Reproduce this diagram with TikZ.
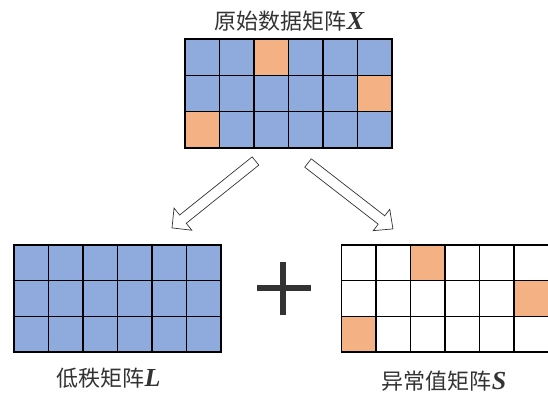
\documentclass[tikz,border=0pt]{standalone}
\usepackage{fontspec}
\setmainfont{Liberation Serif}
\newfontfamily\cjk{Noto Sans CJK SC}
\usetikzlibrary{calc}
\definecolor{cellblue}{HTML}{8FAADC}
\definecolor{cellorange}{HTML}{F4B183}
\definecolor{inkgray}{HTML}{333333}
\newcommand\matsym[1]{{\fontsize{26}{28}\selectfont\rmfamily\bfseries\itshape #1}}
\begin{document}
\begin{tikzpicture}[x=1pt,y=1pt,
  matbox/.style={minimum width=207pt, inner sep=0pt, outer sep=0pt, anchor=north west},
  cellline/.style={draw=black, line width=1.3pt},
  caption/.style={font=\fontsize{22}{24}\selectfont\cjk, text=inkgray, inner sep=0pt},
  blockarrow/.style={draw=inkgray, line width=0.7pt, fill=white, line join=miter},
  plusbar/.style={fill=inkgray}]
\useasboundingbox (0,0) rectangle (548,-394);

% data matrix X
\node[matbox, minimum height=109pt] (X) at (185,-39) {};
\foreach \c in {0,...,5}\foreach \r in {0,1,2}
  \draw[cellline, fill=cellblue] ($(X.north west)+(\c*34.5,-\r*36.33)$) rectangle +(34.5,-36.33);
\foreach \c/\r in {2/0,5/1,0/2}
  \draw[cellline, fill=cellorange] ($(X.north west)+(\c*34.5,-\r*36.33)$) rectangle +(34.5,-36.33);
\node[caption] (tX) at (289.5,-21) {原始数据矩阵\matsym{X}};

% low-rank matrix L
\node[matbox, minimum height=107pt] (L) at (14,-245) {};
\foreach \c in {0,...,5}\foreach \r in {0,1,2}
  \draw[cellline, fill=cellblue] ($(L.north west)+(\c*34.5,-\r*35.67)$) rectangle +(34.5,-35.67);
\node[caption] (tL) at (108.5,-378) {低秩矩阵\matsym{L}};

% sparse outlier matrix S (runs past the right edge)
\node[matbox, minimum height=107pt] (S) at (341.5,-245) {};
\foreach \c in {0,...,5}\foreach \r in {0,1,2}
  \draw[cellline, fill=white] ($(S.north west)+(\c*34.5,-\r*35.67)$) rectangle +(34.5,-35.67);
\foreach \c/\r in {2/0,5/1,0/2}
  \draw[cellline, fill=cellorange] ($(S.north west)+(\c*34.5,-\r*35.67)$) rectangle +(34.5,-35.67);
\node[caption] (tS) at (444,-381) {异常值矩阵\matsym{S}};

% plus sign
\fill[plusbar] (257,-285) rectangle (311,-291);
\fill[plusbar] (280,-262) rectangle (286,-315);

% hollow block arrows
\begin{scope}[shift={(255.5,-161)}, rotate=218.7]
  \draw[blockarrow] (0,-5.3) -- (93,-5.3) -- (93,-14.2) -- (107,0) -- (93,14.2) -- (93,5.3) -- (0,5.3) -- cycle;
\end{scope}
\begin{scope}[shift={(308,-163)}, rotate=-37.8]
  \draw[blockarrow] (0,-5.3) -- (93,-5.3) -- (93,-13.5) -- (107.5,0) -- (93,13.5) -- (93,5.3) -- (0,5.3) -- cycle;
\end{scope}
\end{tikzpicture}
\end{document}
